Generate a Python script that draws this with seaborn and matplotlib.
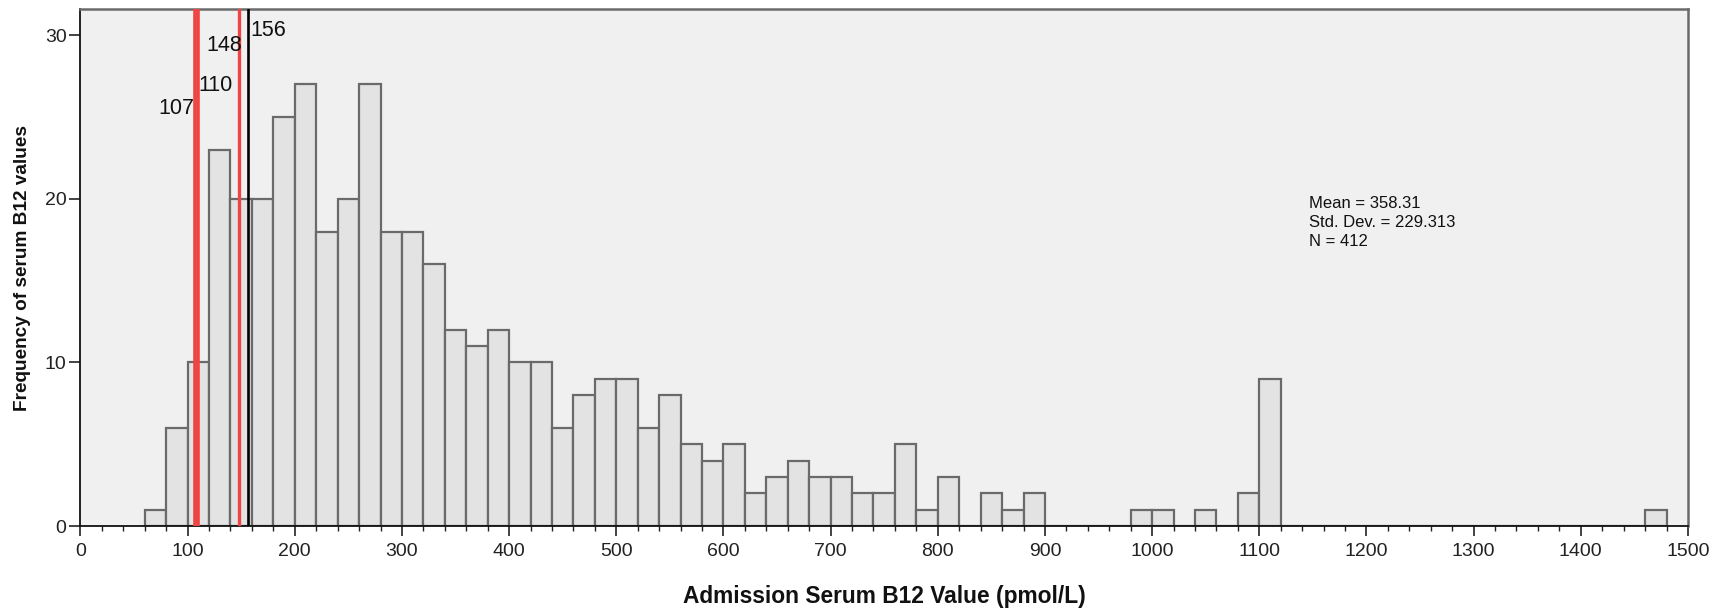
import numpy as np
import pandas as pd
import matplotlib
matplotlib.use("Agg")
import matplotlib.pyplot as plt
import seaborn as sns
from matplotlib.ticker import MultipleLocator

# ---- data (bin left edges, width 20, and counts) ----
bin_left = [60, 80, 100, 120, 140, 160, 180, 200, 220, 240, 260, 280, 300, 320,
            340, 360, 380, 400, 420, 440, 460, 480, 500, 520, 540, 560, 580, 600,
            620, 640, 660, 680, 700, 720, 740, 760, 780, 800, 840, 860, 880,
            980, 1000, 1040, 1080, 1100, 1460]
counts = [1, 6, 10, 23, 20, 20, 25, 27, 18, 20, 27, 18, 18, 16,
          12, 11, 12, 10, 10, 6, 8, 9, 9, 6, 8, 5, 4, 5,
          2, 3, 4, 3, 3, 2, 2, 5, 1, 3, 2, 1, 2,
          1, 1, 1, 2, 9, 1]
ref_values = [107, 110, 148, 156]
ref_colors = ["#EE4444", "#EE4444", "#EE4444", "#000000"]
ref_widths = [2.6, 2.6, 2.4, 1.9]
ref_label_pos = [(106, 25.5, "right"), (110.5, 26.9, "left"),
                 (151, 29.35, "right"), (159, 30.3, "left")]
stats_lines = ["Mean = 358.31", "Std. Dev. = 229.313", "N = 412"]
x_label = "Admission Serum B12 Value (pmol/L)"
y_label = "Frequency of serum B12 values"

df = pd.DataFrame({"mid": np.array(bin_left) + 10, "n": counts})

sns.set_theme(style="white")
plt.rcParams["font.family"] = ["Liberation Sans", "DejaVu Sans"]

fig = plt.figure(figsize=(17.3, 6.12), dpi=100)
ax = fig.add_axes([0.0465, 0.1405, 0.9292, 0.8448])
ax.set_facecolor("#F0F0F0")

sns.histplot(data=df, x="mid", weights="n", binwidth=20, binrange=(60, 1480),
             color="#E3E3E3", edgecolor="#6A6A6A", linewidth=1.6, alpha=1,
             ax=ax)

for v, c, w in zip(ref_values, ref_colors, ref_widths):
    ax.axvline(v, color=c, lw=w, zorder=5)

for (x, y, ha), v in zip(ref_label_pos, ref_values):
    ax.text(x, y, str(v), ha=ha, va="center", fontsize=15.5, color="#111111", zorder=6)

ax.text(1146, 20.15, "\n".join(stats_lines), ha="left", va="top", fontsize=12,
        linespacing=1.33, color="#111111")

ax.set_xlim(0, 1500)
ax.set_ylim(0, 31.6)
ax.xaxis.set_major_locator(MultipleLocator(100))
ax.xaxis.set_minor_locator(MultipleLocator(20))
ax.yaxis.set_major_locator(MultipleLocator(10))

ax.tick_params(axis="x", which="major", direction="out", length=7, width=1.2,
               labelsize=14, colors="#222222", pad=5)
ax.tick_params(axis="x", which="minor", direction="out", length=3.5, width=1.0,
               colors="#222222")
ax.tick_params(axis="y", which="major", direction="out", length=8, width=1.2,
               labelsize=14, colors="#222222", pad=2)
ax.tick_params(bottom=True, left=True, which="both")
ax.tick_params(axis="y", which="minor", left=False)

for s in ["left", "bottom"]:
    ax.spines[s].set_color("#111111")
    ax.spines[s].set_linewidth(1.3)
for s in ["top", "right"]:
    ax.spines[s].set_color("#6A6A6A")
    ax.spines[s].set_linewidth(1.8)

ax.set_xlabel(x_label, fontsize=16.4, fontweight="bold", labelpad=18, color="#111111")
ax.set_ylabel(y_label, fontsize=13.7, fontweight="bold", labelpad=10, color="#111111")

fig.savefig("out.png", dpi=100)
